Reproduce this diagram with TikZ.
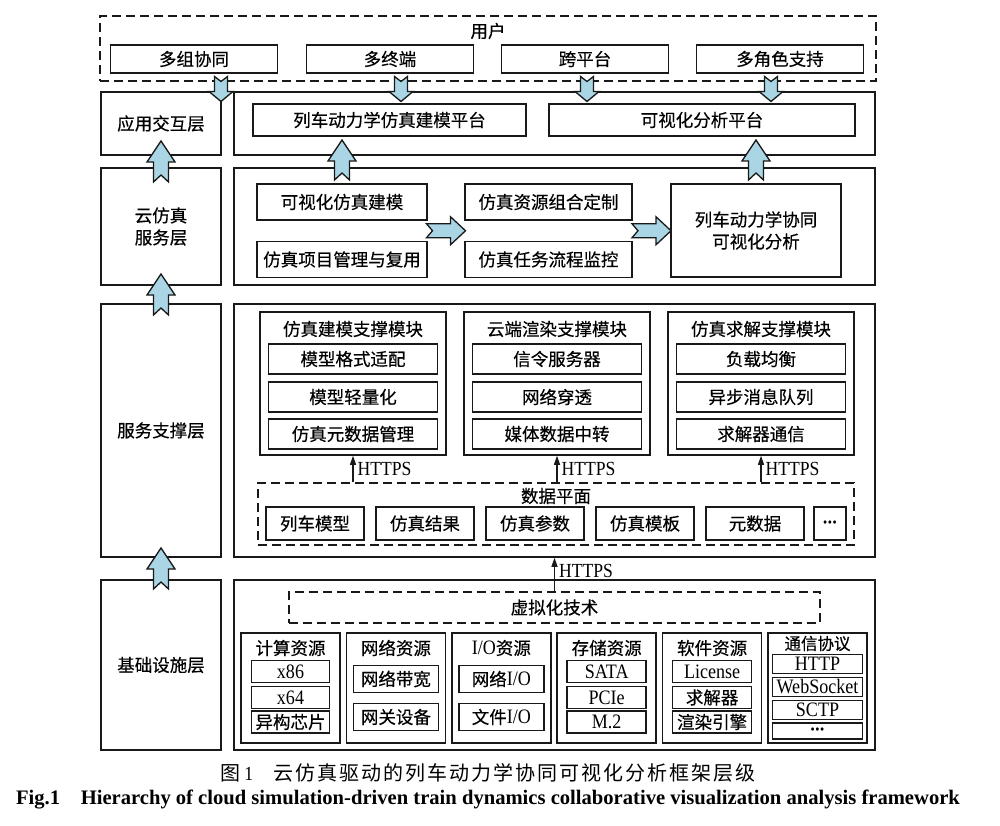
\documentclass[tikz,border=0pt]{standalone}
\usepackage{fontspec}
\setmainfont[FakeBold=0.4]{Noto Sans CJK SC}
\newfontfamily\latinfont[FakeStretch=0.88]{Liberation Serif}
\newfontfamily\capenfont{Liberation Serif}
\newfontfamily\capfont[LetterSpace=10]{Noto Sans CJK SC}
\usepackage{tikz}
\usetikzlibrary{arrows.meta, calc}
\definecolor{arrowblue}{RGB}{170, 213, 228}
\definecolor{linegray}{RGB}{25, 25, 25}
\newcommand{\entext}[1]{{\latinfont\fontsize{20.5}{22}\selectfont #1}}
\newcommand{\moredots}{{\latinfont\bfseries\fontsize{12}{14}\selectfont •\kern1pt•\kern1pt•}}
\tikzset{
  box/.style={rectangle, draw=linegray, fill=white, line width=1.5pt,
              inner sep=0pt, align=center, font=\fontsize{17.5}{22}\selectfont},
  boxsize/.style 2 args={minimum width=#1, minimum height=#2},
  dashbox/.style={rectangle, draw=linegray, line width=1.5pt,
              dash pattern=on 9pt off 5pt, inner sep=0pt,
              font=\fontsize{17.5}{22}\selectfont},
  lbl/.style={inner sep=0pt, font=\fontsize{17.5}{22}\selectfont},
  lblen/.style={inner sep=4pt, font=\latinfont\fontsize{20}{22}\selectfont},
  https/.style={-{Triangle[length=9pt, width=6pt]}, line width=1.2pt, draw=linegray},
  arrlen/.store in=\arrlen, headlen/.store in=\headlen,
  headw/.store in=\headw, shaftw/.store in=\shaftw, notch/.store in=\notch,
  arrlen=41, headlen=21, headw=14, shaftw=7.5, notch=7,
  fatarrow/.pic={
    \filldraw[fill=arrowblue, draw=linegray, line width=1.3pt, line join=miter]
      (-\arrlen/2, \shaftw) -- (-\arrlen/2+\notch, 0) -- (-\arrlen/2, -\shaftw)
      -- (\arrlen/2-\headlen, -\shaftw) -- (\arrlen/2-\headlen, -\headw)
      -- (\arrlen/2, 0) -- (\arrlen/2-\headlen, \headw)
      -- (\arrlen/2-\headlen, \shaftw) -- cycle;
  },
}
\begin{document}
\begin{tikzpicture}[x=1pt, y=-1pt]
  \useasboundingbox (0,0) rectangle (1000,826);
  \fill[white] (0,0) rectangle (1000,826);
  % Users
  \node[dashbox, boxsize={776}{65}] (users) at (488,48.5) {};
  \node[lbl] (userlbl) at (488,31) {用户};
  \node[box, boxsize={167}{28}] (multigroup) at (194,59) {多组协同};
  \node[box, boxsize={167}{28}] (multiterm) at (390,59) {多终端};
  \node[box, boxsize={167}{28}] (crossplat) at (585,59) {跨平台};
  \node[box, boxsize={167}{28}] (multirole) at (780,59) {多角色支持};
  % Application layer
  \node[box, boxsize={120}{63}] (applayer) at (161,123.5) {应用交互层};
  \node[box, boxsize={641}{63}] (appmain) at (554.5,123.5) {};
  \node[box, boxsize={273}{32}] (platform) at (389.5,120) {列车动力学仿真建模平台};
  \node[box, boxsize={306}{32}] (visplat) at (702,120) {可视化分析平台};
  % Cloud simulation service layer
  \node[box, boxsize={120}{117}] (cloudlayer) at (161,226.5) {云仿真\\服务层};
  \node[box, boxsize={641}{117}] (cloudmain) at (554.5,226.5) {};
  \node[box, boxsize={170}{36}] (vismodel) at (342,202) {可视化仿真建模};
  \node[box, boxsize={170}{36}] (projmgmt) at (342,259.5) {仿真项目管理与复用};
  \node[box, boxsize={167}{36}] (rescustom) at (548.5,202) {仿真资源组合定制};
  \node[box, boxsize={167}{36}] (taskmon) at (548.5,259.5) {仿真任务流程监控};
  \node[box, boxsize={170}{93}] (collab) at (756,230.5) {列车动力学协同\\可视化分析};
  % Service support layer
  \node[box, boxsize={120}{253}] (supportlayer) at (161,430.5) {服务支撑层};
  \node[box, boxsize={641}{253}] (supportmain) at (554.5,430.5) {};
  \node[box, boxsize={186}{143}] (modelmod) at (353,383.5) {};
  \node[lbl] at (353,329) {仿真建模支撑模块};
  \node[box, boxsize={169}{30}] (fmtadapt) at (353,359) {模型格式适配};
  \node[box, boxsize={169}{30}] (lightw) at (353,397) {模型轻量化};
  \node[box, boxsize={169}{30}] (metamgmt) at (353,434) {仿真元数据管理};
  \node[box, boxsize={186}{143}] (rendermod) at (557,383.5) {};
  \node[lbl] at (557,329) {云端渲染支撑模块};
  \node[box, boxsize={169}{30}] (signal) at (557,359) {信令服务器};
  \node[box, boxsize={169}{30}] (nattrav) at (557,397) {网络穿透};
  \node[box, boxsize={169}{30}] (relay) at (557,434) {媒体数据中转};
  \node[box, boxsize={186}{143}] (solvemod) at (761,383.5) {};
  \node[lbl] at (761,329) {仿真求解支撑模块};
  \node[box, boxsize={169}{30}] (loadbal) at (761,359) {负载均衡};
  \node[box, boxsize={169}{30}] (msgqueue) at (761,397) {异步消息队列};
  \node[box, boxsize={169}{30}] (solvercom) at (761,434) {求解器通信};
  % Data plane
  \node[dashbox, boxsize={596}{62}] (dataplane) at (556,514) {};
  \node[lbl] at (556,496) {数据平面};
  \node[box, boxsize={98}{33}] (trainmodel) at (315,523.5) {列车模型};
  \node[box, boxsize={98}{33}] (simresult) at (425,523.5) {仿真结果};
  \node[box, boxsize={98}{33}] (simparam) at (535,523.5) {仿真参数};
  \node[box, boxsize={98}{33}] (simtempl) at (645,523.5) {仿真模板};
  \node[box, boxsize={98}{33}] (metadata) at (755,523.5) {元数据};
  \node[box, boxsize={32}{33}] (datamore) at (830,523.5) {\moredots};
  \draw[https] (dataplane.north -| modelmod.south) -- (modelmod.south)
    node[midway, right, lblen] {HTTPS};
  \draw[https] (dataplane.north -| rendermod.south) -- (rendermod.south)
    node[midway, right, lblen] {HTTPS};
  \draw[https] (dataplane.north -| solvemod.south) -- (solvemod.south)
    node[midway, right, lblen] {HTTPS};
  % Infrastructure layer
  \node[box, boxsize={120}{170}] (infralayer) at (161,665) {基础设施层};
  \node[box, boxsize={641}{170}] (inframain) at (554.5,665) {};
  \node[dashbox, boxsize={531}{31}] (virt) at (554.5,607.5) {虚拟化技术};
  \draw[https] (virt.north) -- (virt.north |- supportmain.south)
    node[pos=0.6, right, lblen] {HTTPS};
  % Resources
  \node[box, boxsize={99}{110}] (compute) at (290.5,688) {};
  \node[lbl] at (290.5,648) {计算资源};
  \node[box, boxsize={78}{22}] (xeightysix) at (290.5,671.5) {\entext{x86}};
  \node[box, boxsize={78}{22}] (xsixtyfour) at (290.5,697.5) {\entext{x64}};
  \node[box, boxsize={78}{22}] (hetero) at (290.5,722) {异构芯片};
  \node[box, boxsize={99}{110}] (network) at (395.9,688) {};
  \node[lbl] at (395.9,648) {网络资源};
  \node[box, boxsize={85}{27}] (bandwidth) at (395.9,679) {网络带宽};
  \node[box, boxsize={85}{27}] (gateway) at (395.9,717) {网关设备};
  \node[box, boxsize={99}{110}] (iores) at (501.3,688) {};
  \node[lbl] at (501.3,648) {\entext{I/O}资源};
  \node[box, boxsize={85}{27}] (netio) at (501.3,679) {网络\entext{I/O}};
  \node[box, boxsize={85}{27}] (fileio) at (501.3,717) {文件\entext{I/O}};
  \node[box, boxsize={99}{110}] (storage) at (606.7,688) {};
  \node[lbl] at (606.7,648) {存储资源};
  \node[box, boxsize={79}{22}] (sata) at (606.7,671.5) {\entext{SATA}};
  \node[box, boxsize={79}{22}] (pcie) at (606.7,697.5) {\entext{PCIe}};
  \node[box, boxsize={79}{22}] (mtwo) at (606.7,722) {\entext{M.2}};
  \node[box, boxsize={99}{110}] (software) at (712.1,688) {};
  \node[lbl] at (712.1,648) {软件资源};
  \node[box, boxsize={79}{22}] (license) at (712.1,671.5) {\entext{License}};
  \node[box, boxsize={79}{22}] (solver) at (712.1,697.5) {求解器};
  \node[box, boxsize={79}{22}] (render) at (712.1,722) {渲染引擎};
  \node[box, boxsize={99}{110}] (protocol) at (817.5,688) {};
  \node[lbl, font=\fontsize{16.5}{20}\selectfont] at (817.5,643.5) {通信协议};
  \node[box, boxsize={90}{19}] (http) at (817.5,664) {\entext{HTTP}};
  \node[box, boxsize={90}{19}] (websocket) at (817.5,687) {\entext{WebSocket}};
  \node[box, boxsize={90}{19}] (sctp) at (817.5,710) {\entext{SCTP}};
  \node[box, boxsize={90}{16}] (protomore) at (817.5,731) {\moredots};
  % Fat arrows
  \coordinate (dOne) at (221,89);
  \coordinate (dTwo) at (401,89);
  \coordinate (dThree) at (587,89);
  \coordinate (dFour) at (771,89);
  \foreach \d in {dOne,dTwo,dThree,dFour}{
    \pic[rotate=-90, arrlen=25, headlen=10, headw=12, shaftw=6.5, notch=5] at (\d) {fatarrow};
  }
  \pic[rotate=90] at ($(applayer.south)!.5!(cloudlayer.north)$) {fatarrow};
  \pic[rotate=90] at ($(cloudlayer.south)!.5!(supportlayer.north)$) {fatarrow};
  \pic[rotate=90] at ($(supportlayer.south)!.5!(infralayer.north)$) {fatarrow};
  \pic[rotate=90, arrlen=40] at ($(vismodel.north)!.5!(vismodel.north |- platform.south)$) {fatarrow};
  \pic[rotate=90, arrlen=40] at ($(collab.north)!.5!(collab.north |- visplat.south)$) {fatarrow};
  \pic[arrlen=39, headlen=15, headw=14, shaftw=7, notch=6]
    at ($(vismodel.south east)!.5!(taskmon.north west)$) {fatarrow};
  \pic[arrlen=39, headlen=15, headw=14, shaftw=7, notch=6]
    at ($(rescustom.south east)!.5!(taskmon.north east -| collab.west)$) {fatarrow};
  % Captions
  \node[font=\capfont\fontsize{20}{22}\selectfont] (capcn) at (488,773)
    {图\,{\latinfont 1}\quad 云仿真驱动的列车动力学协同可视化分析框架层级};
  \node[font=\capenfont\bfseries\fontsize{20.6}{22}\selectfont] (capen) at (488,800)
    {Fig.1\quad Hierarchy of cloud simulation-driven train dynamics collaborative visualization analysis framework};
\end{tikzpicture}
\end{document}
